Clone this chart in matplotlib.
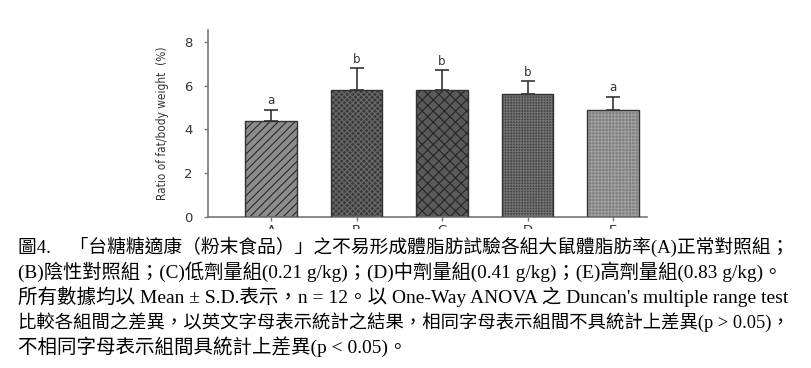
import matplotlib
matplotlib.use('Agg')
import matplotlib.pyplot as plt
from matplotlib.patches import Rectangle

groups = ['A', 'B', 'C', 'D', 'E']
means = [4.4, 5.8, 5.8, 5.6, 4.9]
sds = [0.5, 1.0, 0.9, 0.6, 0.6]
letters = ['a', 'b', 'b', 'b', 'a']
fills = ['#8c8c8c', '#3c3c3c', '#5a5a5a', '#424242', '#7c7c7c']
hatch_cols = ['#2a2a2a', '#6a6a6a', '#262626', '#707070', '#a0a0a0']
hatches = ['////', 'xxxxxx', 'xxx', '++++++', '+++++']

caption = [
    '圖4.\u3000「台糖糖適康（粉末食品）」之不易形成體脂肪試驗各組大鼠體脂肪率(A)正常對照組；',
    '(B)陰性對照組；(C)低劑量組(0.21 g/kg)；(D)中劑量組(0.41 g/kg)；(E)高劑量組(0.83 g/kg)。',
    '所有數據均以 Mean ± S.D.表示，n = 12。以 One-Way ANOVA 之 Duncan\'s multiple range test',
    '比較各組間之差異，以英文字母表示統計之結果，相同字母表示組間不具統計上差異(p > 0.05)，',
    '不相同字母表示組間具統計上差異(p < 0.05)。',
]
caption_sizes = [13.5, 13.9, 14.0, 13.2, 14.0]

plt.rcParams['hatch.linewidth'] = 0.8

fig = plt.figure(figsize=(8.12, 3.68), dpi=100)
ax = fig.add_axes([0.256, 0.4103, 0.541, 0.508])

x = list(range(len(groups)))
for i in x:
    ax.bar(i, means[i], width=0.6, color=fills[i], edgecolor=hatch_cols[i],
           hatch=hatches[i], linewidth=0, zorder=2)
ax.bar(x, means, width=0.6, fill=False, edgecolor='#333333', linewidth=1.0, zorder=3)
ax.errorbar(x, means, yerr=[[0] * len(x), sds], fmt='none', ecolor='#333333',
            elinewidth=1.2, capsize=5, capthick=1.2, zorder=4)
for i in x:
    ax.text(i, means[i] + sds[i] + 0.12, letters[i], ha='center', va='bottom',
            fontsize=8.5, color='#333333')

ax.set_xlim(-0.74, 4.4)
ax.set_ylim(0, 8.54)
ax.set_yticks([0, 2, 4, 6, 8])
ax.set_xticks(x)
ax.set_xticklabels(groups)
for s in ['top', 'right']:
    ax.spines[s].set_visible(False)
for s in ['left', 'bottom']:
    ax.spines[s].set_color('#777777')
    ax.spines[s].set_linewidth(1.2)
ax.tick_params(colors='#777777', labelcolor='#333333', labelsize=9.5, length=3, width=1)
ax.tick_params(axis='x', pad=2)
ax.tick_params(axis='y', pad=8)
ax.set_ylabel('Ratio of fat/body weight  (%)', fontsize=8.5, color='#333333',
              fontstretch='condensed', labelpad=11)

# caption area covers the lower part of the tick labels, as in the scan
fig.patches.append(Rectangle((0, 0), 1, 1 - 229 / 368, transform=fig.transFigure,
                             facecolor='white', edgecolor='none', zorder=10))

ys = [247, 272, 297, 322, 347]
for line, yy, fs in zip(caption, ys, caption_sizes):
    fig.text(18 / 812, 1 - yy / 368, line, ha='left', va='center', fontsize=fs,
             family=['Liberation Serif', 'Noto Sans CJK TC'], color='black', zorder=11)

fig.savefig('out.png', dpi=100)
